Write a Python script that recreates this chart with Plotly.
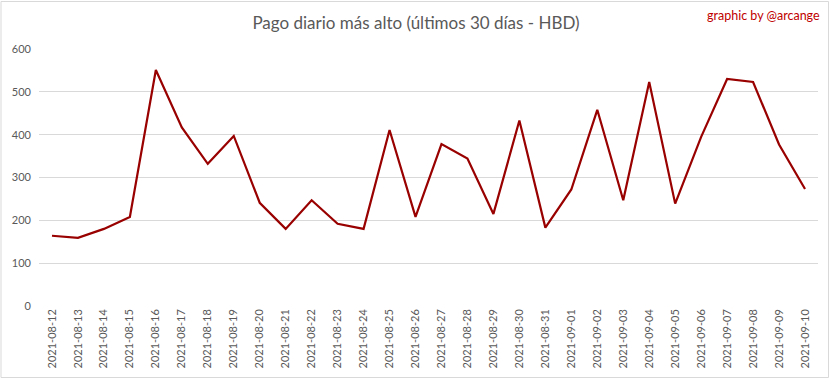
import plotly.graph_objects as go

dates = ["2021-08-12", "2021-08-13", "2021-08-14", "2021-08-15", "2021-08-16", "2021-08-17",
         "2021-08-18", "2021-08-19", "2021-08-20", "2021-08-21", "2021-08-22", "2021-08-23",
         "2021-08-24", "2021-08-25", "2021-08-26", "2021-08-27", "2021-08-28", "2021-08-29",
         "2021-08-30", "2021-08-31", "2021-09-01", "2021-09-02", "2021-09-03", "2021-09-04",
         "2021-09-05", "2021-09-06", "2021-09-07", "2021-09-08", "2021-09-09", "2021-09-10"]
values = [164, 159, 180, 208, 551, 417, 332, 397, 241, 180, 247, 192,
          180, 411, 208, 378, 344, 215, 433, 183, 272, 458, 247, 523,
          239, 395, 530, 523, 377, 273]
y_ticks = [0, 100, 200, 300, 400, 500, 600]

W, H = 833, 379
L, R, T, B = 39, 15, 49, 73
pw, ph = W - L - R, H - T - B

fig = go.Figure(go.Scatter(
    x=dates, y=values, mode="lines",
    line=dict(color="#990000", width=2.2),
    hoverinfo="x+y",
))

fig.update_layout(
    width=W, height=H,
    margin=dict(l=L, r=R, t=T, b=B, autoexpand=False),
    paper_bgcolor="white", plot_bgcolor="white",
    showlegend=False,
    font=dict(family="Lato, 'Open Sans', sans-serif", color="#595959", size=11),
    title=dict(text="Pago diario más alto (últimos 30 días - HBD)",
               x=416 / W, xref="container", xanchor="center",
               y=1 - 23 / H, yref="container", yanchor="middle",
               font=dict(size=17, color="#595959", family="Lato, sans-serif")),
    xaxis=dict(type="category", tickangle=-90, showgrid=False, showline=False,
               ticks="", zeroline=False, tickfont=dict(size=11, color="#595959"),
               automargin=False, range=[-0.5, len(dates) - 0.5]),
    yaxis=dict(range=[0, 600], tickvals=y_ticks, showgrid=True, gridcolor="#d9d9d9",
               gridwidth=1, zeroline=False, showline=False, ticks="", automargin=False,
               ticklabelstandoff=7, tickfont=dict(size=11, color="#595959")),
    annotations=[dict(text="graphic by @arcange", xref="paper", yref="paper",
                      x=(822 - L) / pw, y=1 + (T - 15) / ph, xanchor="right", yanchor="middle",
                      showarrow=False, font=dict(size=12.5, color="#c00000"))],
    shapes=[dict(type="rect", xref="paper", yref="paper",
                 x0=(1 - L) / pw, x1=(828.5 - L) / pw,
                 y0=-(B - 1.5) / ph, y1=1 + (T - 1.5) / ph,
                 line=dict(color="#d9d9d9", width=1), layer="below")],
)

fig.write_html("out.html", config={"displayModeBar": False},
               post_script="document.body.style.margin='0';")
